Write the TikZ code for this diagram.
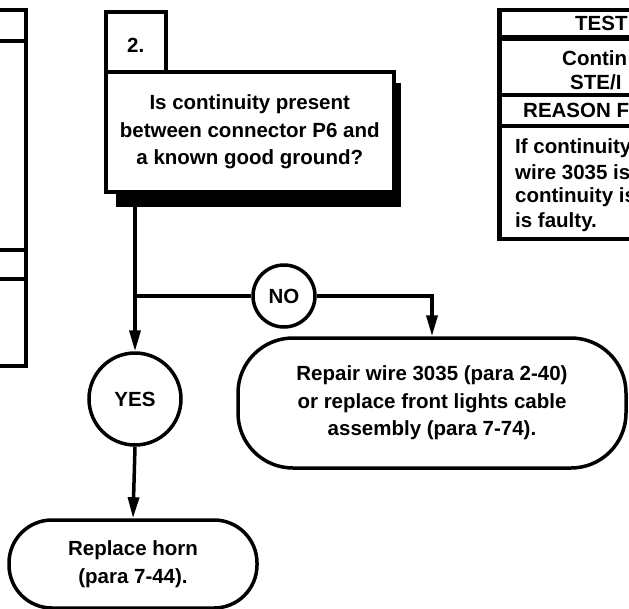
\documentclass[tikz,border=0pt]{standalone}
\usepackage{fontspec}
\setmainfont{Liberation Sans}
\usetikzlibrary{positioning, arrows.meta, calc}

\begin{document}
\begin{tikzpicture}[x=1pt, y=-1pt,
  every node/.style={font=\fontsize{20.5}{27.5}\selectfont\bfseries},
  line/.style={line width=3.5pt},
  arr/.style={line width=3.5pt, -{Triangle[length=21pt, width=11pt]}},
  qbox/.style={draw, line width=3.5pt, fill=white, align=center, inner sep=0pt},
  endbox/.style={draw, line width=3.5pt, fill=white, align=center},
  answer/.style={circle, draw, line width=3.5pt, fill=white, inner sep=0pt},
  cell/.style={anchor=west, inner sep=0pt, font=\fontsize{20.5}{24}\selectfont\bfseries}
]
\useasboundingbox (0,0) rectangle (629,608);
\clip (0,0) rectangle (629,608);

% ---- Previous step (cut off on the left) ----
\draw[line] (-20,10) -- (26,10) -- (26,366) -- (-20,366);
\draw[line] (-20,41) -- (26,41);
\draw[line] (-20,250) -- (26,250);
\draw[line] (-20,279) -- (26,279);

% ---- Step 2 question ----
\node[fill=black, minimum width=285pt, minimum height=124pt, anchor=south east,
      inner sep=0pt] (qshadow) at (401,207) {};
\node[qbox, minimum width=60pt, minimum height=60pt, anchor=north west] (step2)
  at (104,10) {};
\node (num2) at ($(step2.center)+(0,4)$) {2.};
\node[qbox, minimum width=288pt, minimum height=120pt, anchor=north west] (quest)
  at (104,70)
  {Is continuity present\\ between connector P6 and\\ a known good ground?};

% ---- Answers ----
\node[answer, minimum size=92pt] (yes) at (135,399) {YES};
\node[answer, minimum size=62pt] (no) at (284,296) {NO};

% ---- End boxes ----
\node[endbox, rounded corners=55pt, minimum width=388pt, minimum height=130pt]
  (repair) at (432,403)
  {Repair wire 3035 (para 2-40)\\ or replace front lights cable\\ assembly (para 7-74).};
\node[endbox, rounded corners=43pt, minimum width=248pt, minimum height=88pt]
  (horn) at (133,564)
  {Replace horn\\ (para 7-44).};

% ---- Connectors ----
\coordinate (split) at (yes.north |- no);
\draw[arr] (qshadow.south -| yes) -- (yes.north);
\draw[line] (split) -- (no.west);
\draw[arr] (no.east) -| (repair.north);
\draw[arr] (yes.south) -- (horn.north);

% ---- Test table (cut off on the right) ----
\draw[line] (640,10) -- (499,10) -- (499,239) -- (640,239);
\draw[line width=5pt] (499,9) -- (499,240);
\draw[line width=5.5pt] (499,38) -- (640,38);
\draw[line] (499,95) -- (640,95);
\draw[line] (499,126) -- (640,126);

\node[cell] (ttest) at (575,23) {TEST};
\node[cell] (tcont) at (562,58) {Contin};
\node[cell] (tste) at (570,82) {STE/I};
\node[cell] (treason) at (523,110) {REASON F};
\node[cell] (tline1) at (515,148) {If continuity};
\node[cell] (tline2) at (515,172) {wire 3035 is};
\node[cell] (tline3) at (515,197) {continuity is};
\node[cell] (tline4) at (515,222) {is faulty.};

\end{tikzpicture}
\end{document}
